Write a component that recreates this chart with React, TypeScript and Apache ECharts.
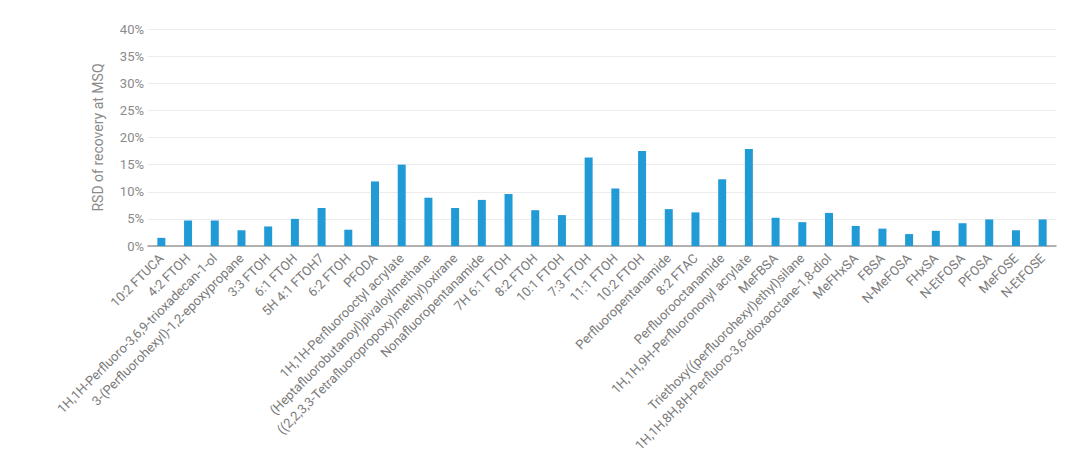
import React, { useEffect, useRef } from 'react'
import * as echarts from 'echarts'

const compounds = [
  '10:2 FTUCA',
  '4:2 FTOH',
  '1H,1H-Perfluoro-3,6,9-trioxadecan-1-ol',
  '3-(Perfluorohexyl)-1,2-epoxypropane',
  '3:3 FTOH',
  '6:1 FTOH',
  '5H 4:1 FTOH7',
  '6:2 FTOH',
  'PFODA',
  '1H,1H-Perfluorooctyl acrylate',
  '(Heptafluorobutanoyl)pivaloylmethane',
  '((2,2,3,3-Tetrafluoropropoxy)methyl)oxirane',
  'Nonafluoropentanamide',
  '7H 6:1 FTOH',
  '8:2 FTOH',
  '10:1 FTOH',
  '7:3 FTOH',
  '11:1 FTOH',
  '10:2 FTOH',
  'Perfluoropentanamide',
  '8:2 FTAC',
  'Perfluorooctanamide',
  '1H,1H,9H-Perfluorononyl acrylate',
  'MeFBSA',
  'Triethoxy((perfluorohexyl)ethyl)silane',
  '1H,1H,8H,8H-Perfluoro-3,6-dioxaoctane-1,8-diol',
  'MeFHxSA',
  'FBSA',
  'N-MeFOSA',
  'FHxSA',
  'N-EtFOSA',
  'PFOSA',
  'MeFOSE',
  'N-EtFOSE'
]

// RSD (%)
const rsdValues = [
  1.5, 4.7, 4.7, 2.9, 3.6, 5.0, 7.0, 3.0, 11.9, 15.0, 8.9, 7.0,
  8.5, 9.6, 6.6, 5.7, 16.3, 10.6, 17.5, 6.8, 6.2, 12.3, 17.9,
  5.2, 4.4, 6.1, 3.7, 3.2, 2.2, 2.8, 4.2, 4.9, 2.9, 4.9
]

const yTicks = { min: 0, max: 40, interval: 5 }

const App: React.FC = () => {
  const chartRef = useRef<HTMLDivElement>(null)

  useEffect(() => {
    document.body.style.margin = '0'
    if (!chartRef.current) return
    const chart = echarts.init(chartRef.current, undefined, { renderer: 'svg' })

    const option: echarts.EChartsOption = {
      animation: false,
      textStyle: { fontFamily: 'Roboto' },
      grid: { left: 148, right: 25, top: 29, bottom: 217 },
      xAxis: {
        type: 'category',
        data: compounds,
        axisLine: { lineStyle: { color: '#9a9a9a', width: 1.5 } },
        axisTick: { show: false },
        axisLabel: {
          interval: 0,
          rotate: 45,
          color: '#7a7a7a',
          fontSize: 13,
          margin: 10
        }
      },
      yAxis: {
        type: 'value',
        min: yTicks.min,
        max: yTicks.max,
        interval: yTicks.interval,
        name: 'RSD of recovery at MSQ',
        nameLocation: 'middle',
        nameGap: 43,
        nameTextStyle: { color: '#8a8a8a', fontSize: 14 },
        axisLine: { show: false },
        axisTick: { show: false },
        axisLabel: {
          color: '#8a8a8a',
          fontSize: 13,
          margin: 4,
          formatter: '{value}%'
        },
        splitLine: { lineStyle: { color: '#ececec', width: 1 } }
      },
      series: [
        {
          type: 'bar',
          data: rsdValues,
          barWidth: 8,
          itemStyle: { color: '#219bd6' }
        }
      ]
    }

    chart.setOption(option)
    return () => {
      chart.dispose()
    }
  }, [])

  return <div ref={chartRef} style={{ width: 1081, height: 463 }} />
}

export default App
